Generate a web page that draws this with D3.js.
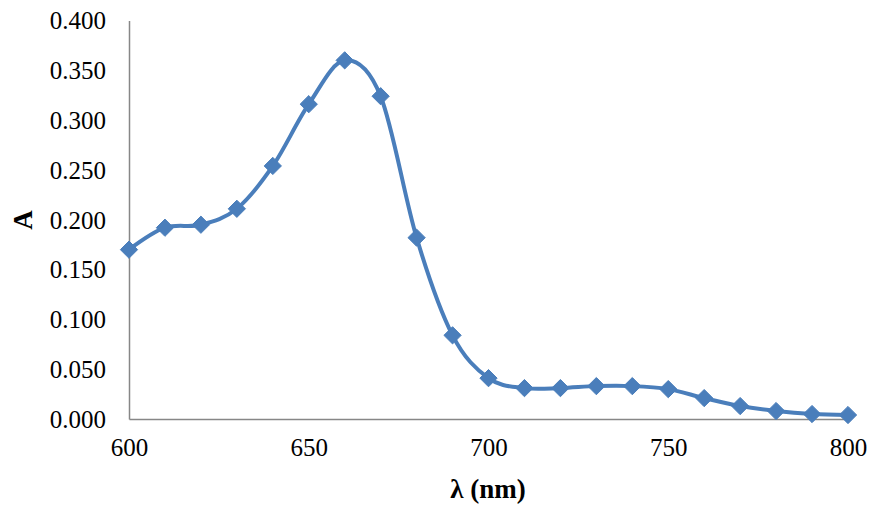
<!DOCTYPE html>
<html>
<head>
<meta charset="utf-8">
<script src="https://cdn.jsdelivr.net/npm/d3@7"></script>
</head>
<body style="margin:0;background:#ffffff">
<svg id="chart" width="872" height="509" style="display:block"></svg>
<script>
// Absorbance spectrum, 600–800 nm
const wavelengths = [600, 610, 620, 630, 640, 650, 660, 670, 680, 690, 700,
                     710, 720, 730, 740, 750, 760, 770, 780, 790, 800];
const absorbance = [0.170, 0.192, 0.195, 0.211, 0.254, 0.316, 0.360, 0.324, 0.182, 0.084, 0.041,
                    0.031, 0.031, 0.033, 0.033, 0.030, 0.021, 0.013, 0.008, 0.005, 0.004];
const xTicks = [600, 650, 700, 750, 800];
const yTicks = [0, 0.05, 0.1, 0.15, 0.2, 0.25, 0.3, 0.35, 0.4];
const xTitle = "λ (nm)";
const yTitle = "A";

const serif = "Liberation Serif";

const svg = d3.select("#chart");
const plot = { left: 129, right: 848, top: 20.5, bottom: 419 };

const x = d3.scaleLinear().domain([600, 800]).range([plot.left, plot.right]);
const y = d3.scaleLinear().domain([0, 0.4]).range([plot.bottom, plot.top]);

const axisColor = "#878787";

// Y axis
const yAxis = svg.append("g")
  .attr("transform", `translate(${plot.left},0)`)
  .call(d3.axisLeft(y).tickValues(yTicks).tickSize(0).tickPadding(23).tickFormat(d3.format(".3f")));
yAxis.attr("font-family", serif).attr("font-size", 25);
yAxis.select(".domain").attr("stroke", axisColor).attr("stroke-width", 1.5);
yAxis.selectAll("text")
  .attr("font-family", serif).attr("font-size", 25)
  .attr("fill", "#000").attr("dy", "0.33em");

// X axis
const xAxis = svg.append("g")
  .attr("transform", `translate(0,${plot.bottom})`)
  .call(d3.axisBottom(x).tickValues(xTicks).tickSize(0).tickPadding(19).tickFormat(d3.format("d")));
xAxis.attr("font-family", serif).attr("font-size", 25);
xAxis.select(".domain").attr("stroke", axisColor).attr("stroke-width", 1.5);
xAxis.selectAll("text")
  .attr("font-family", serif).attr("font-size", 25)
  .attr("fill", "#000");

// Axis titles
svg.append("text")
  .attr("x", 488)
  .attr("y", 498)
  .attr("text-anchor", "middle")
  .attr("font-family", serif)
  .attr("font-size", 27)
  .attr("font-weight", "bold")
  .attr("fill", "#000")
  .text(xTitle);

svg.append("text")
  .attr("transform", "translate(32,220) rotate(-90)")
  .attr("text-anchor", "middle")
  .attr("font-family", serif)
  .attr("font-size", 27)
  .attr("font-weight", "bold")
  .attr("fill", "#000")
  .text(yTitle);

// Smoothed series line
const data = wavelengths.map((w, i) => ({ w, a: absorbance[i] }));
const line = d3.line()
  .x(d => x(d.w))
  .y(d => y(d.a))
  .curve(d3.curveCatmullRom.alpha(0));

const blue = "#4a7ebb";
svg.append("path")
  .datum(data)
  .attr("d", line)
  .attr("fill", "none")
  .attr("stroke", blue)
  .attr("stroke-width", 4)
  .attr("stroke-linejoin", "round");

// Diamond markers
const diamond = d3.symbol().type(d3.symbolDiamond2).size(190);
svg.append("g")
  .selectAll("path")
  .data(data)
  .join("path")
  .attr("transform", d => `translate(${x(d.w)},${y(d.a)})`)
  .attr("d", diamond)
  .attr("fill", blue)
  .attr("stroke", blue)
  .attr("stroke-width", 1);
</script>
</body>
</html>
